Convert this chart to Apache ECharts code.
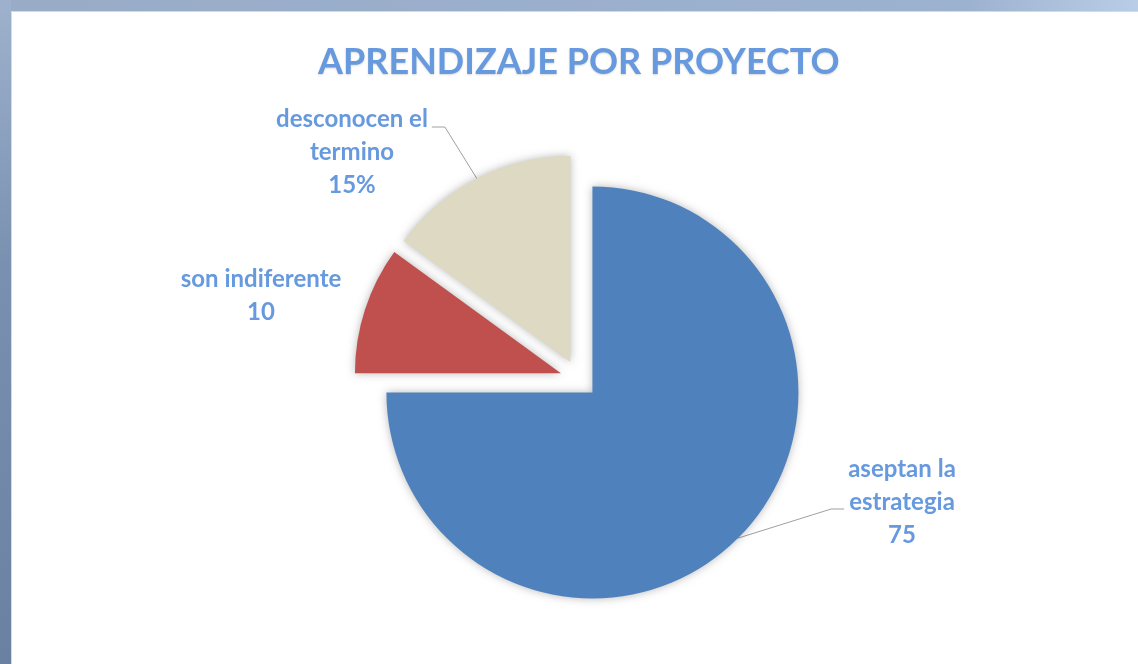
<!DOCTYPE html>
<html>
<head>
<meta charset="utf-8">
<title>Aprendizaje por proyecto</title>
<script src="https://cdn.jsdelivr.net/npm/echarts@6/dist/echarts.min.js"></script>
<style>
html, body { margin: 0; padding: 0; background: #fff; }
#chart { width: 1138px; height: 664px; }
</style>
</head>
<body>
<div id="chart"></div>
<script>
// datos del grafico
var categories = ['aseptan la\nestrategia', 'son indiferente', 'desconocen el\ntermino'];
var values = [75, 10, 15];
var showPercent = [false, false, true];
var sliceColors = ['#4f81bd', '#c0504d', '#ddd9c3'];

// geometria del pastel (porciones separadas)
var CENTER = [579, 379];
var RADIUS = 206;
var EXPLODE = 19;

// etiquetas: centro del bloque, lado de la guia, altura de la guia
var labelPos = [[902, 502], [261, 296], [352, 152]];
var lineSide = [-1, 0, 1];
var lineDy = [7, 0, -25];

var labelColor = '#6699de';

var total = 0;
for (var k = 0; k < values.length; k++) total += values[k];

// angulo medio de la porcion, en sentido horario desde las 12
function midAngle(i) {
	var s = 0;
	for (var j = 0; j < i; j++) s += values[j];
	return (s + values[i] / 2) / total * 2 * Math.PI;
}
function sliceCenter(i) {
	var a = midAngle(i);
	return [CENTER[0] + EXPLODE * Math.sin(a), CENTER[1] - EXPLODE * Math.cos(a)];
}
function arcPoint(i) {
	var a = midAngle(i), c = sliceCenter(i);
	return [c[0] + RADIUS * Math.sin(a), c[1] - RADIUS * Math.cos(a)];
}

function layoutLabel(params) {
	var i = params.dataIndex;
	var p = labelPos[i];
	var res = { x: p[0], y: p[1], align: 'center', verticalAlign: 'middle' };
	if (lineSide[i] !== 0) {
		var w = params.labelRect.width;
		var ey = p[1] + lineDy[i];
		var ex = p[0] + lineSide[i] * (w / 2 + 4);
		res.labelLinePoints = [arcPoint(i), [ex + lineSide[i] * 13, ey], [ex, ey]];
	}
	return res;
}

var myChart = echarts.init(document.getElementById('chart'));

var series = [];
for (var i = 0; i < values.length; i++) {
	var data = [];
	for (var j = 0; j < values.length; j++) {
		if (j === i) {
			data.push({
				name: categories[j],
				value: values[j],
				itemStyle: { color: sliceColors[j] },
				label: { show: true, formatter: showPercent[j] ? '{b}\n{d}%' : '{b}\n{c}' },
				labelLine: { show: j !== 1 }
			});
		} else {
			// hueco transparente para que cada porcion tenga su propio centro
			data.push({
				name: categories[j],
				value: values[j],
				itemStyle: { color: 'rgba(0,0,0,0)', shadowBlur: 0 },
				label: { show: false },
				labelLine: { show: false }
			});
		}
	}
	series.push({
		name: 'APRENDIZAJE POR PROYECTO',
		type: 'pie',
		center: sliceCenter(i),
		radius: [0, RADIUS],
		startAngle: 90,
		clockwise: true,
		silent: true,
		avoidLabelOverlap: false,
		emphasis: { disabled: true },
		itemStyle: {
			borderWidth: 0,
			shadowBlur: 9,
			shadowColor: 'rgba(0,0,0,0.28)'
		},
		label: {
			position: 'outside',
			fontFamily: 'Lato',
			fontWeight: 'bold',
			fontSize: 24,
			lineHeight: 33,
			align: 'center',
			color: labelColor
		},
		labelLine: {
			lineStyle: { color: '#a0a0a0', width: 1 }
		},
		labelLayout: layoutLabel,
		data: data
	});
}

var option = {
	animation: false,
	backgroundColor: '#fff',
	graphic: [
		{
			type: 'rect', z: -10, silent: true,
			shape: { x: 0, y: 0, width: 1138, height: 11 },
			style: {
				fill: {
					type: 'linear', x: 0, y: 0, x2: 1, y2: 0,
					colorStops: [
						{ offset: 0, color: '#98acc8' },
						{ offset: 0.85, color: '#9db2cf' },
						{ offset: 1, color: '#b9cde7' }
					]
				}
			}
		},
		{
			type: 'rect', z: -10, silent: true,
			shape: { x: 0, y: 0, width: 11, height: 664 },
			style: {
				fill: {
					type: 'linear', x: 0, y: 0, x2: 0, y2: 1,
					colorStops: [
						{ offset: 0, color: '#9eb2cd' },
						{ offset: 0.4, color: '#7a90b0' },
						{ offset: 1, color: '#6a81a2' }
					]
				}
			}
		},
		{
			type: 'polyline', z: -9, silent: true,
			shape: { points: [[11.5, 664], [11.5, 11.5], [1138, 11.5]] },
			style: { stroke: '#d6d9de', lineWidth: 1, fill: null }
		}
	],
	title: {
		text: 'APRENDIZAJE POR PROYECTO',
		left: 313,
		top: 39,
		textStyle: {
			fontFamily: 'Lato',
			fontWeight: 'bold',
			fontSize: 36,
			color: labelColor,
			textShadowColor: 'rgba(0,0,0,0.15)',
			textShadowBlur: 2,
			textShadowOffsetY: 1
		}
	},
	series: series
};

myChart.setOption(option);
</script>
</body>
</html>
